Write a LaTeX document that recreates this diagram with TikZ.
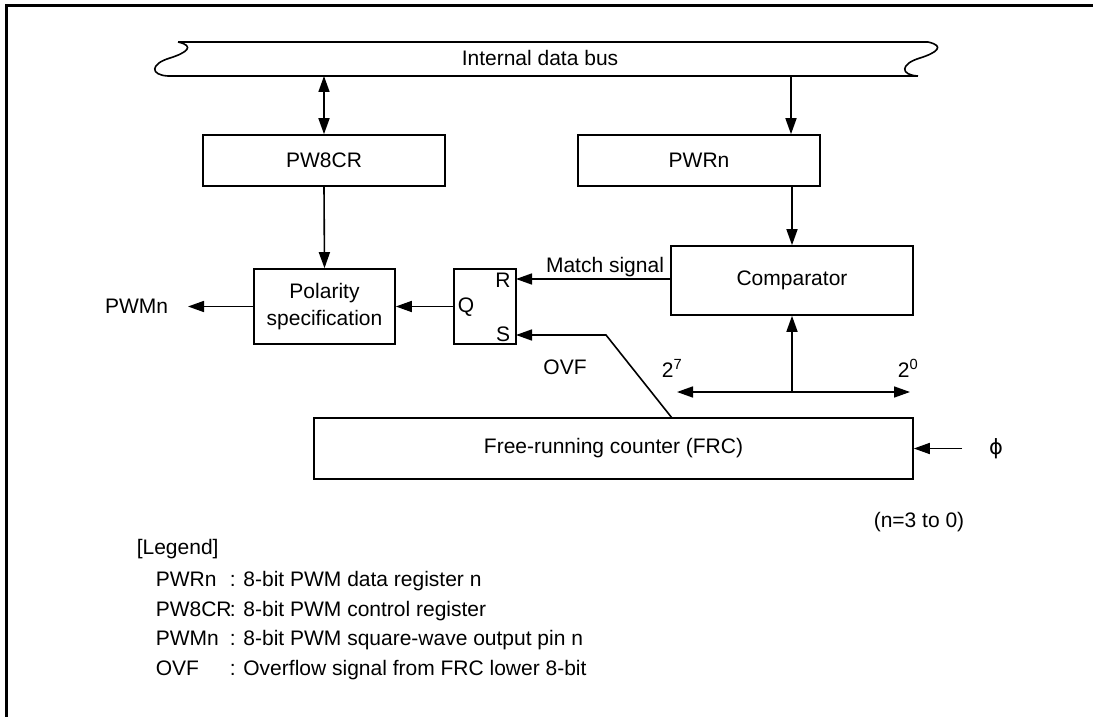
\documentclass[tikz,border=0pt]{standalone}
\usepackage{fontspec}
\setmainfont{Liberation Sans}
\newfontfamily\djv{DejaVu Sans}
\usetikzlibrary{arrows.meta}
\begin{document}
\begin{tikzpicture}[x=1bp,y=-1bp, line width=1.6bp,
  txt/.style={font=\fontsize{21bp}{27bp}\selectfont, inner sep=0pt},
  box/.style={draw, line width=1.6bp, inner sep=0pt, font=\fontsize{21bp}{27bp}\selectfont, align=center},
  arr/.style={-{Triangle[length=16bp,width=11bp]}},
  darr/.style={{Triangle[length=16bp,width=11bp]}-{Triangle[length=16bp,width=11bp]}}]
\useasboundingbox (0,0) rectangle (1093,717);
% frame
\draw[line width=3bp] (6,717) -- (6,6) -- (1093,6);
% internal data bus
\draw (178,42) -- (928,42);
\draw (168,76) -- (918,76);
\draw (178,42) .. controls (196,46) and (186,53) .. (170,58) .. controls (150,64) and (150,75) .. (168,76);
\draw (928,42) .. controls (946,46) and (936,53) .. (920,58) .. controls (900,64) and (900,75) .. (918,76);
\node[txt] (bus) at (540,58) {Internal data bus};
\coordinate (busL) at (324,76);
\coordinate (busR) at (791,76);
% boxes
\node[box, minimum width=242bp, minimum height=51bp] (pw8cr) at (324,160.5) {PW8CR};
\node[box, minimum width=242bp, minimum height=51bp] (pwrn) at (699,160.5) {PWRn};
\node[box, minimum width=242bp, minimum height=69bp] (comp) at (792,280.5) {Comparator};
\node[box, minimum width=141bp, minimum height=75bp] (pol) at (324.5,306.5) {Polarity\\specification};
\node[box, minimum width=62bp, minimum height=75bp] (ff) at (485,306.5) {};
\node[box, minimum width=599bp, minimum height=61bp] (frc) at (613.5,448.5) {Free-running counter (FRC)};
% flip-flop pins
\node[txt] (qlab) at (466,307) {Q};
\node[txt] (rlab) at (503,280) {R};
\node[txt] (slab) at (503,334) {S};
\coordinate (ffR) at (516,279);
\coordinate (ffS) at (516,335);
% connectors
\draw[darr] (busL) -- (pw8cr.north);
\draw[arr] (busR) -- (busR |- pwrn.north);
\draw[arr] (comp.north |- pwrn.south) -- (comp.north);
\draw[arr] (pw8cr.south) -- (pol.north);
\coordinate (pwmtip) at (188,306.5);
\draw[arr] (pol.west) -- (pwmtip);
\node[txt] (pwmn) at (136.5,306.5) {PWMn};
\draw[arr] (ff.west) -- (pol.east);
\draw[arr] (comp.west |- ffR) -- (ffR);
\node[txt, anchor=base] (match) at (605,272) {Match signal};
\coordinate (ovfbase) at (672,418);
\coordinate (ovfknee) at (606,335);
\draw[arr] (ovfbase) -- (ovfknee) -- (ffS);
\node[txt] (ovf) at (565,367) {OVF};
% bit bus
\coordinate (bM) at (792,392);
\coordinate (bL) at (677,392);
\coordinate (bR) at (910,392);
\draw[arr] (bM) -- (bL);
\draw[arr] (bM) -- (bR);
\draw[arr] (bM) -- (comp.south);
\node[txt, anchor=base] (b7) at (672,377) {2\textsuperscript{7}};
\node[txt, anchor=base] (b0) at (908,377) {2\textsuperscript{0}};
% clock
\coordinate (phistart) at (962,448.5);
\draw[arr] (phistart) -- (frc.east |- phistart);
\node[txt] (phi) at (996,448.5) {{\djv ϕ}};
\node[txt, anchor=base] (nnote) at (919,527.5) {(n=3 to 0)};
% legend
\node[txt, anchor=base west] (leg) at (136,554.5) {[Legend]};
\node[txt, anchor=base west] (l1a) at (155,586.5) {PWRn};
\node[txt, anchor=base west] (l1b) at (229,586.5) {: 8-bit PWM data register n};
\node[txt, anchor=base west] (l2a) at (155,616) {PW8CR};
\node[txt, anchor=base west] (l2b) at (229,616) {: 8-bit PWM control register};
\node[txt, anchor=base west] (l3a) at (155,645.5) {PWMn};
\node[txt, anchor=base west] (l3b) at (229,645.5) {: 8-bit PWM square-wave output pin n};
\node[txt, anchor=base west] (l4a) at (155,675) {OVF};
\node[txt, anchor=base west] (l4b) at (229,675) {: Overflow signal from FRC lower 8-bit};
\end{tikzpicture}
\end{document}
